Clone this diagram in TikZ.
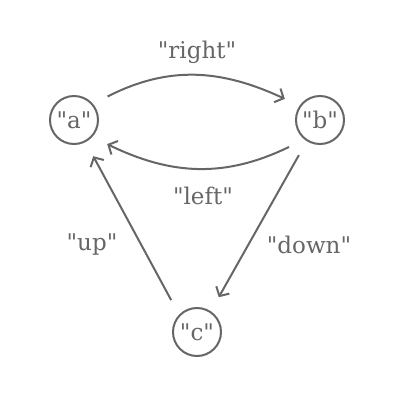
\documentclass[tikz,border=0pt]{standalone}
\usepackage{fontspec}
\setmainfont[Ligatures=TeXOff]{DejaVu Serif}
\usetikzlibrary{arrows.meta}
\definecolor{fg}{HTML}{666666}
\begin{document}
\begin{tikzpicture}[x=1pt,y=-1pt,
  st/.style={draw=fg, circle, line width=2pt, minimum size=48pt, inner sep=0pt, outer sep=17pt, text=fg, font=\fontsize{23}{27}\selectfont},
  lbl/.style={text=fg, font=\fontsize{23}{27}\selectfont},
  edge/.style={draw=fg, line width=2pt, -{Straight Barb[length=7pt,width=15pt]}}]
\useasboundingbox (0,0) rectangle (400,400);
\node[st] (a) at (74,120) {"a"};
\node[st] (b) at (320,120) {"b"};
\node[st] (c) at (197,332) {"c"};
\draw[edge] (a.35) to[out=27, in=155] (b.149);
\draw[edge] (b.221) to[out=206, in=-26] (a.324);
\draw[edge] (c.129) -- (a.298);
\draw[edge] (b.239) -- (c.58);
\node[lbl] (lr) at (197,52) {"right"};
\node[lbl] (ll) at (203,196) {"left"};
\node[lbl] (lu) at (92,245) {"up"};
\node[lbl] (ld) at (309,245) {"down"};
\end{tikzpicture}
\end{document}
